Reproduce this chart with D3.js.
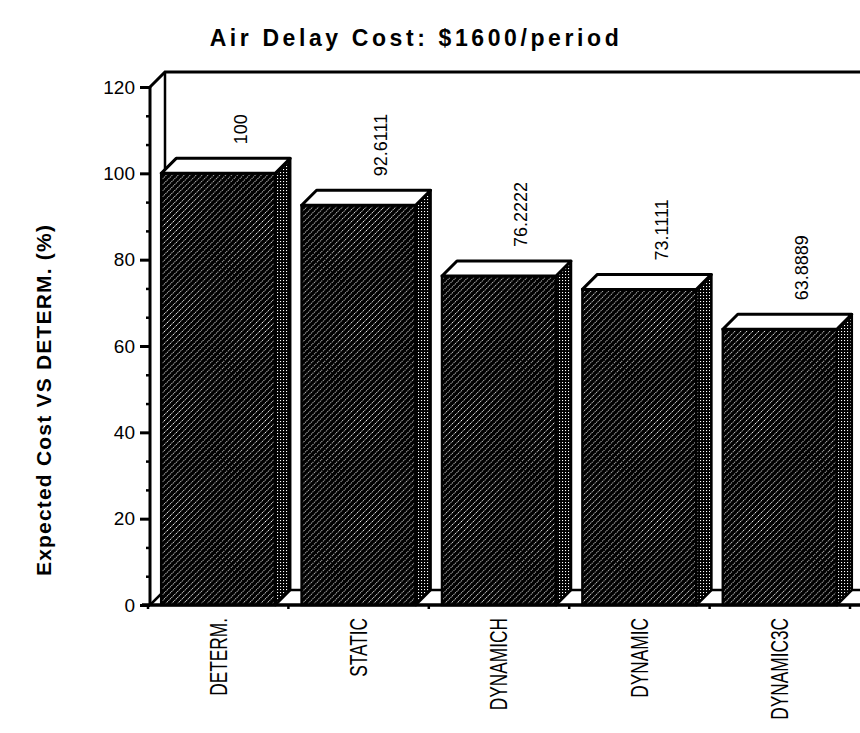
<!DOCTYPE html>
<html>
<head>
<meta charset="utf-8">
<script src="https://cdn.jsdelivr.net/npm/d3@7"></script>
<style>
  html, body { margin: 0; padding: 0; background: #fff; }
  svg { display: block; }
  text { font-family: "Liberation Sans", Arial, sans-serif; fill: #000; }
</style>
</head>
<body>
<svg id="chart" width="860" height="733"></svg>
<script>
// Expected cost of each policy relative to the deterministic policy (%)
const categories = ["DETERM.", "STATIC", "DYNAMICH", "DYNAMIC", "DYNAMIC3C"];
const values = [100, 92.6111, 76.2222, 73.1111, 63.8889];
const yTickValues = [0, 20, 40, 60, 80, 100, 120];
const titleText = "Air Delay Cost: $1600/period";
const yAxisTitle = "Expected Cost VS DETERM. (%)";

const svg = d3.select("#chart");

// Plot frame: front plane and the depth offset of the back wall
const frontLeft = 148, frontRight = 850;
const yBase = 605, yMax = 87;
const depth = 15;

const x = d3.scaleBand()
  .domain(categories)
  .range([frontLeft, frontRight])
  .paddingInner(0.188)
  .paddingOuter(0.094);

const y = d3.scaleLinear().domain([0, 120]).range([yBase, yMax]);

// Fill patterns: hatched front faces, stippled side faces
const defs = svg.append("defs");
const hatch = defs.append("pattern")
  .attr("id", "hatch")
  .attr("patternUnits", "userSpaceOnUse")
  .attr("width", 4.2).attr("height", 4.2)
  .attr("patternTransform", "rotate(45)");
hatch.append("rect").attr("width", 4.2).attr("height", 4.2).attr("fill", "#000");
hatch.append("line")
  .attr("x1", 2.1).attr("y1", 0).attr("x2", 2.1).attr("y2", 4.2)
  .attr("stroke", "#fff").attr("stroke-width", 0.9)
  .attr("stroke-dasharray", "1.1 1");

const stipple = defs.append("pattern")
  .attr("id", "stipple")
  .attr("patternUnits", "userSpaceOnUse")
  .attr("width", 3).attr("height", 3);
stipple.append("rect").attr("width", 3).attr("height", 3).attr("fill", "#000");
stipple.append("rect").attr("x", 1).attr("y", 1).attr("width", 1.1).attr("height", 1.1).attr("fill", "#fff");

// Title
svg.append("text")
  .attr("x", 416).attr("y", 46)
  .attr("text-anchor", "middle")
  .attr("font-size", 23)
  .attr("font-weight", "bold")
  .attr("letter-spacing", 3.6)
  .text(titleText);

// Y axis title
svg.append("text")
  .attr("transform", `translate(51, 400) rotate(-90)`)
  .attr("text-anchor", "middle")
  .attr("font-size", 21)
  .attr("font-weight", "bold")
  .attr("letter-spacing", 1.2)
  .text(yAxisTitle);

const frame = svg.append("g")
  .attr("fill", "none")
  .attr("stroke", "#000")
  .attr("stroke-linejoin", "miter");

// Back wall: left edge, top edge and its join to the front axis
frame.append("path")
  .attr("stroke-width", 3)
  .attr("d", `M${frontLeft + 2},${yMax} L${frontLeft + 2 + depth},${yMax - depth} L860,${yMax - depth}`);
frame.append("line")
  .attr("stroke-width", 2.5)
  .attr("x1", frontLeft + 2 + depth).attr("y1", yMax - depth)
  .attr("x2", frontLeft + 2 + depth).attr("y2", yBase - depth);

// Floor: back edge and left edge
frame.append("path")
  .attr("stroke-width", 2.5)
  .attr("d", `M${frontLeft + 2},${yBase} L${frontLeft + 2 + depth},${yBase - depth} L860,${yBase - depth}`);

// Bars: front face, side face, top face
const bars = svg.append("g").selectAll("g")
  .data(categories.map((c, i) => ({ c, v: values[i] })))
  .join("g");

bars.append("rect")
  .attr("x", d => x(d.c))
  .attr("y", d => y(d.v))
  .attr("width", x.bandwidth())
  .attr("height", d => y(0) - y(d.v))
  .attr("fill", "url(#hatch)")
  .attr("stroke", "#000")
  .attr("stroke-width", 2.5);

bars.append("path")
  .attr("d", d => {
    const xr = x(d.c) + x.bandwidth(), yt = y(d.v), yb = y(0);
    return `M${xr},${yb} L${xr + depth},${yb - depth} L${xr + depth},${yt - depth} L${xr},${yt} Z`;
  })
  .attr("fill", "url(#stipple)")
  .attr("stroke", "#000")
  .attr("stroke-width", 2.5)
  .attr("stroke-linejoin", "round");

bars.append("path")
  .attr("d", d => {
    const xl = x(d.c), xr = xl + x.bandwidth(), yt = y(d.v);
    return `M${xl},${yt} L${xl + depth},${yt - depth} L${xr + depth},${yt - depth} L${xr},${yt} Z`;
  })
  .attr("fill", "#fff")
  .attr("stroke", "#000")
  .attr("stroke-width", 3)
  .attr("stroke-linejoin", "round");

// Value labels above each bar
bars.append("text")
  .attr("transform", d => `translate(${x(d.c) + x.bandwidth() / 2 + 22}, ${y(d.v) - depth - 14}) rotate(-90)`)
  .attr("dy", "0.35em")
  .attr("font-size", 18)
  .text(d => String(d.v));

// Front y axis with major and minor ticks
const yAxis = svg.append("g")
  .attr("transform", `translate(${frontLeft + 2},0)`)
  .call(d3.axisLeft(y).tickValues(yTickValues).tickSize(10).tickPadding(5).tickFormat(d3.format("d")));
yAxis.select(".domain").attr("stroke-width", 3).attr("d", `M0,${yBase}V${yMax}`);
yAxis.selectAll(".tick line").attr("stroke-width", 3);
yAxis.selectAll(".tick text")
  .attr("font-size", 19)
  .attr("font-family", "Liberation Sans, Arial, sans-serif");

const minorTicks = d3.range(0, 18).map(i => i * 20 / 3).filter(v => v % 20 !== 0);
svg.append("g")
  .attr("transform", `translate(${frontLeft + 2},0)`)
  .call(d3.axisLeft(y).tickValues(minorTicks).tickSize(4).tickFormat(""))
  .call(g => g.select(".domain").remove())
  .selectAll(".tick line").attr("stroke-width", 2.5);

// Front floor edge with category ticks
const xAxis = svg.append("g")
  .attr("transform", `translate(0,${yBase})`);
xAxis.append("line")
  .attr("x1", frontLeft - 6).attr("x2", 860)
  .attr("stroke", "#000").attr("stroke-width", 3.5);
const step = x.step();
xAxis.selectAll(".cat-tick")
  .data(d3.range(categories.length + 1))
  .join("line")
  .attr("class", "cat-tick")
  .attr("x1", i => frontLeft + i * step).attr("x2", i => frontLeft + i * step)
  .attr("y1", 0).attr("y2", 4)
  .attr("stroke", "#000").attr("stroke-width", 2.5);

// Category labels, rotated
svg.append("g").selectAll("text")
  .data(categories)
  .join("text")
  .attr("transform", d => `translate(${x(d) + x.bandwidth() / 2}, 618) rotate(-90) scale(0.72,1)`)
  .attr("text-anchor", "end")
  .attr("dy", "0.35em")
  .attr("font-size", 24)
  .text(d => d);
</script>
</body>
</html>
